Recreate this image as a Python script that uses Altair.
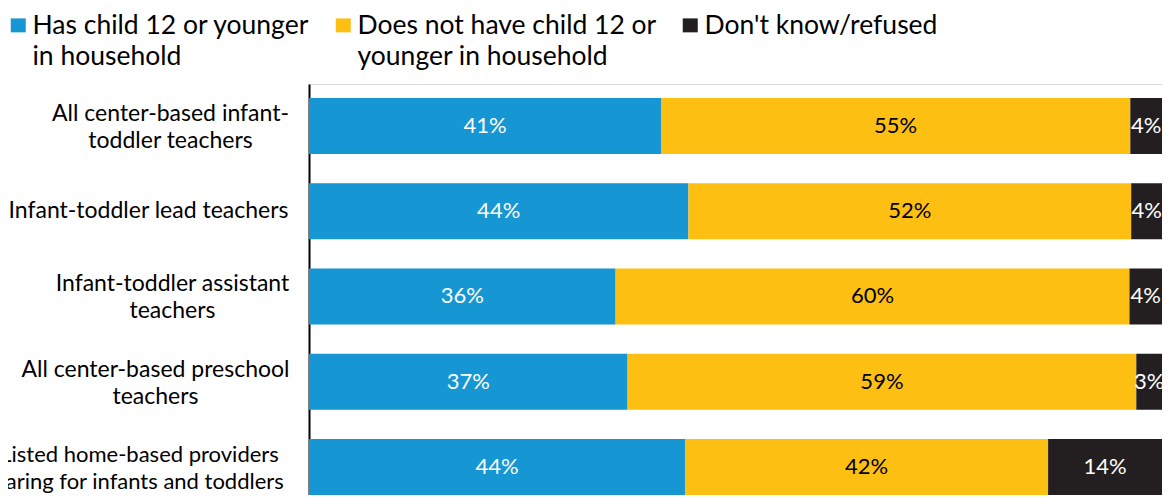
import altair as alt
import pandas as pd

categories = [
    "All center-based infant-\ntoddler teachers",
    "Infant-toddler lead teachers",
    "Infant-toddler assistant\nteachers",
    "All center-based preschool\nteachers",
    "Listed home-based providers\ncaring for infants and toddlers",
]
series = [
    "Has child 12 or younger\nin household",
    "Does not have child 12 or\nyounger in household",
    "Don't know/refused",
]
has_child = [41.1, 44.3, 35.8, 37.2, 43.9]
no_child = [54.8, 51.7, 60.0, 59.4, 42.4]
dont_know = [4.1, 4.0, 4.2, 3.4, 13.7]
colors = ["#1696d2", "#fdbf11", "#231f20"]

# the reference crops the bars at the right edge of the picture
x_visible_max = 99.6

rows = []
for i, c in enumerate(categories):
    for j, (s, vals) in enumerate(zip(series, [has_child, no_child, dont_know])):
        rows.append({"category": c, "series": s, "order": j, "value": vals[i]})
df = pd.DataFrame(rows)

# horizontal distance from the axis line to the centre of each label block
label_pad = {
    "All center-based infant": 139,
    "Infant-toddler lead": 161,
    "Infant-toddler assistant": 137,
    "All center-based preschool": 154,
    "Listed home-based": 170,
}
pad_cond = {
    "condition": [
        {"test": f"indexof(datum.value, '{k}') == 0", "value": v}
        for k, v in label_pad.items()
    ],
    "value": 150,
}
offset_cond = {
    "condition": {"test": "indexof(datum.value, '\\n') >= 0", "value": -12},
    "value": 0,
}
size_cond = {
    "condition": {"test": "indexof(datum.value, 'Listed home-based') == 0", "value": 22},
    "value": 23,
}

y_axis = alt.Axis(
    title=None,
    domainColor="#000000",
    domainWidth=2,
    ticks=False,
    tickSize=0,
    grid=False,
    labelFont="Lato",
    labelFontSize=size_cond,
    labelColor="#000000",
    labelAlign="center",
    labelBaseline="middle",
    labelLineHeight=27,
    labelLimit=600,
    labelPadding=pad_cond,
    labelOffset=offset_cond,
    labelExpr="split(datum.value, '\\n')",
)

base = alt.Chart(df).transform_stack(
    stack="value",
    as_=["x0", "x1"],
    groupby=["category"],
    sort=[alt.SortField("order", order="ascending")],
)

y_enc = alt.Y(
    "category:N",
    sort=categories,
    scale=alt.Scale(paddingInner=0.343, paddingOuter=0.082, align=1),
    axis=y_axis,
)

bars = base.mark_bar(clip=True).encode(
    y=y_enc,
    x=alt.X("x0:Q", scale=alt.Scale(domain=[0, x_visible_max], nice=False), axis=None),
    x2="x1:Q",
    color=alt.Color(
        "series:N",
        scale=alt.Scale(domain=series, range=colors),
        legend=alt.Legend(
            title=None,
            orient="none",
            legendX=-304,
            legendY=-63,
            direction="horizontal",
            columns=3,
            padding=0,
            columnPadding=20,
            symbolType="M-1,-2.13H1V-0.27H-1Z",
            symbolSize=225,
            symbolStrokeWidth=0,
            symbolOpacity=1,
            labelFont="Lato",
            labelFontSize=26.5,
            labelColor="#000000",
            labelBaseline="alphabetic",
            labelOffset=1,
            labelLimit=600,
            labelExpr="split(indexof(datum.label, '\\n') < 0 ? datum.label + '\\n ' : datum.label, '\\n')",
        ),
    ),
)

text = base.transform_calculate(
    mid=f"(datum.x0 + min(datum.x1, {x_visible_max})) / 2",
    lab="format(datum.value, '.0f') + '%'",
).mark_text(font="Lato", fontSize=22, baseline="middle", align="center").encode(
    y=alt.Y("category:N", sort=categories),
    x=alt.X("mid:Q", axis=None),
    text="lab:N",
    color=alt.condition("datum.order == 1", alt.value("#000000"), alt.value("#ffffff")),
)

chart = (
    alt.layer(bars, text)
    .properties(
        width=853,
        height=411,
        autosize="none",
        padding={"left": 301, "top": 76, "right": 0, "bottom": 0},
        background="white",
    )
    .configure_view(stroke=None)
    .configure(font="Lato", style={"guide-label": {"lineHeight": 31}})
)

chart.save("out.html", embed_options={"renderer": "svg", "actions": False})
